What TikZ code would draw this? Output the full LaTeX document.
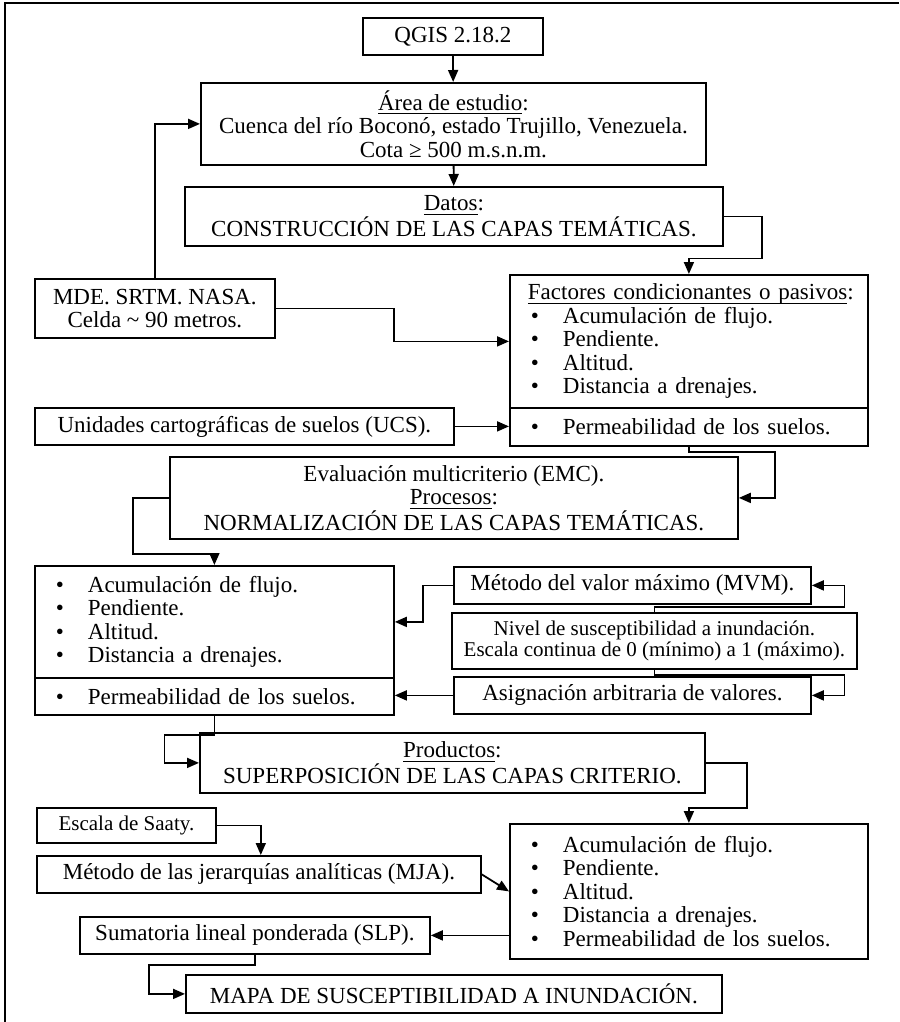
\documentclass[tikz,border=0pt]{standalone}
\usepackage{amsmath}
\usepackage{fontspec}
\setmainfont{Liberation Serif}
\usetikzlibrary{arrows.meta,positioning,calc}
\tikzset{
  every picture/.style={line width=1.8pt},
  box/.style={draw, fill=white, align=center, inner sep=0pt, anchor=north west},
  small/.style={font=\fontsize{21}{21.5}\selectfont},
  listbox/.style={draw, fill=white, align=left, inner xsep=18pt, inner ysep=0pt, anchor=north west},
  flow/.style={-{Triangle[length=12pt,width=10pt]}},
}
\newcommand{\bul}[1]{\makebox[35pt][l]{\hspace{3pt}\textbullet}#1}
\newcommand{\hd}[1]{\underline{\smash[b]{#1}}:}

\begin{document}
\begin{tikzpicture}[x=1pt, y=-1pt, font=\fontsize{23}{23.5}\selectfont]
\useasboundingbox (0,0) rectangle (899,1022);
% frame
\draw (899,3) -- (5,3) -- (5,1022);

% upper chain
\node[box, minimum width=180pt, minimum height=37pt] (qgis) at (362,17) {QGIS 2.18.2};
\node[box, minimum width=505pt, minimum height=82pt] (area) at (200,82) {\hd{Área de estudio}\\ Cuenca del río Boconó, estado Trujillo, Venezuela.\\ Cota ≥ 500 m.s.n.m.};
\node[box, minimum width=538pt, minimum height=59pt] (datos) at (184,186) {\hd{Datos}\\ CONSTRUCCIÓN DE LAS CAPAS TEMÁTICAS.};
\node[box, minimum width=240pt, minimum height=59pt] (mde) at (34,278) {MDE. SRTM. NASA.\\ Celda \textasciitilde{} 90 metros.};
\node[listbox, text width=322pt, minimum height=133pt] (factup) at (509,274) {\hd{Factores condicionantes o pasivos}\\ \bul{Acumulación de flujo.}\\ \bul{Pendiente.}\\ \bul{Altitud.}\\ \bul{Distancia a drenajes.}};
\node[listbox, text width=322pt, minimum height=38pt, below=-1.8pt of factup] (factlow) {\bul{Permeabilidad de los suelos.}};
\node[box, minimum width=419pt, minimum height=37pt] (ucs) at (34,407) {Unidades cartográficas de suelos (UCS).};
\node[box, minimum width=568pt, minimum height=82pt] (emc) at (169,456) {Evaluación multicriterio (EMC).\\ \hd{Procesos}\\ NORMALIZACIÓN DE LAS CAPAS TEMÁTICAS.};

% normalization
\node[listbox, text width=323pt, minimum height=112pt] (normup) at (34,565) {\bul{Acumulación de flujo.}\\ \bul{Pendiente.}\\ \bul{Altitud.}\\ \bul{Distancia a drenajes.}};
\node[listbox, text width=323pt, minimum height=37pt, below=-1.8pt of normup] (normlow) {\bul{Permeabilidad de los suelos.}};
\node[box, minimum width=357pt, minimum height=37pt] (mvm) at (453,566) {Método del valor máximo (MVM).};
\node[box, small, minimum width=405pt, minimum height=56pt] (nivel) at (451,612) {Nivel de susceptibilidad a inundación.\\ Escala continua de 0 (mínimo) a 1 (máximo).};
\node[box, minimum width=357pt, minimum height=37pt] (asig) at (453,676) {Asignación arbitraria de valores.};

% products
\node[box, minimum width=505pt, minimum height=60pt] (prod) at (199,732) {\hd{Productos}\\ SUPERPOSICIÓN DE LAS CAPAS CRITERIO.};
\node[box, small, minimum width=179pt, minimum height=35pt] (saaty) at (36,807) {Escala de Saaty.};
\node[box, minimum width=444pt, minimum height=37pt] (mja) at (36,855) {Método de las jerarquías analíticas (MJA).};
\node[listbox, text width=322pt, minimum height=135pt] (final) at (509,823) {\bul{Acumulación de flujo.}\\ \bul{Pendiente.}\\ \bul{Altitud.}\\ \bul{Distancia a drenajes.}\\ \bul{Permeabilidad de los suelos.}};
\node[box, minimum width=350pt, minimum height=37pt] (slp) at (79,916) {Sumatoria lineal ponderada (SLP).};
\node[box, minimum width=536pt, minimum height=38pt] (mapa) at (185,974) {MAPA DE SUSCEPTIBILIDAD A INUNDACIÓN.};

% connectors
\draw[flow] (qgis) -- (area);
\draw[flow] (area) -- (datos);
\draw[flow] (datos.east) -- ++(38,0) -- ++(0,42) -| (factup.north);
\draw[flow] (mde.north) |- (area.west);
\draw[flow] (mde.east) -- ++(118,0) |- (factup.west);
\draw[flow] (ucs.east) -- (ucs.east -| factlow.west);
\draw[flow] (factlow.south) -- ++(0,5) -- ++(86,0) |- (emc.east);
\draw[flow] (emc.west) -- ++(-36,0) -- ++(0,56) -| (normup.north);
\draw[flow] (mvm.west) -- ++(-30,0) |- (normup.east);
\draw[flow] (nivel.north) -- ++(0,-5) -- ++(190,0) |- (mvm.east);
\draw[flow] (nivel.south) -- ++(0,5) -- ++(190,0) |- (asig.east);
\draw[flow] (asig.west) -- (asig.west -| normlow.east);
\draw[flow] (normlow.south) -- ++(0,19) -- ++(-50,0) |- (prod.west);
\draw[flow] (prod.east) -- ++(41,0) -- ++(0,45) -| (final.north);
\draw[flow] (saaty.east) -- ++(44,0) coordinate (s1) -- (s1 |- mja.north);
\draw[flow] (mja.east) -- (final.west);
\draw[flow] (slp.east -| final.west) -- (slp.east);
\draw[flow] (slp.south) -- ++(0,10) -- ++(-106,0) |- (mapa.west);
\end{tikzpicture}
\end{document}
